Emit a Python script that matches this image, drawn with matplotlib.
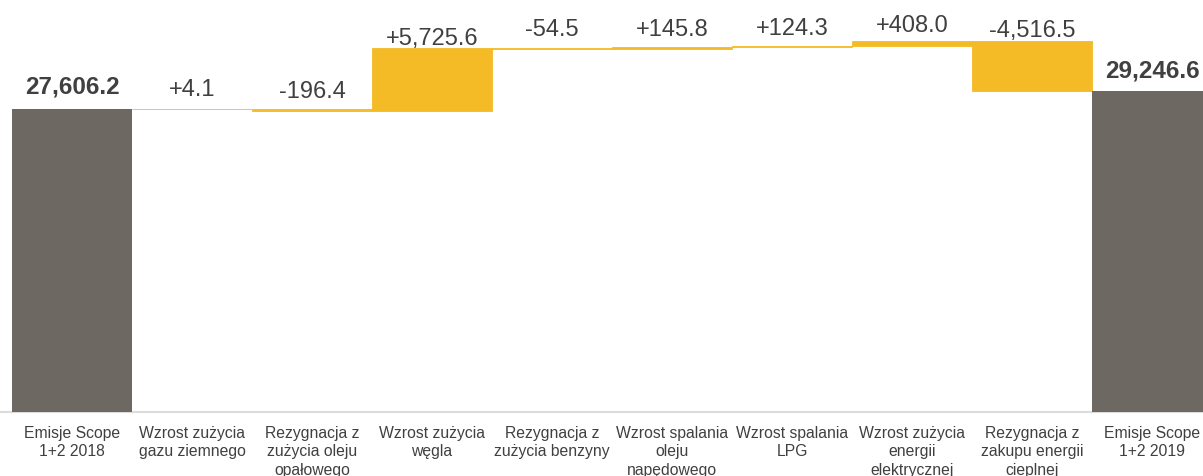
import matplotlib
matplotlib.use("Agg")
import matplotlib.pyplot as plt
import numpy as np

plt.rcParams['font.family'] = ['Liberation Sans', 'DejaVu Sans']

# ---- data ----
categories = [
    "Emisje Scope\n1+2 2018",
    "Wzrost zużycia\ngazu ziemnego",
    "Rezygnacja z\nzużycia oleju\nopałowego",
    "Wzrost zużycia\nwęgla",
    "Rezygnacja z\nzużycia benzyny",
    "Wzrost spalania\noleju\nnapędowego",
    "Wzrost spalania\nLPG",
    "Wzrost zużycia\nenergii\nelektrycznej",
    "Rezygnacja z\nzakupu energii\ncieplnej",
    "Emisje Scope\n1+2 2019",
]
start_total = 27606.2
changes = [4.1, -196.4, 5725.6, -54.5, 145.8, 124.3, 408.0, -4516.5]
end_total = 29246.6

# ---- style ----
YELLOW = "#F4BB26"
GRAY = "#6D6862"
TEXT = "#404040"
label_gap_px = [15.7, 12.9, 10.6, 3.3, 12.6, 11.6, 11.0, 9.2, 4.2, 13.5]

fig = plt.figure(figsize=(12.03, 4.76), dpi=100)
H = 476.0
base_px = 411.5
ax = fig.add_axes([0, (H - base_px) / H, 1, base_px / H])

x = np.arange(len(categories))
bottoms, heights, colors, tops, texts, weights = [], [], [], [], [], []

bottoms.append(0); heights.append(start_total); colors.append(GRAY)
tops.append(start_total); texts.append(f"{start_total:,.1f}"); weights.append("bold")
level = start_total
for c in changes:
    new = level + c
    bottoms.append(min(level, new)); heights.append(abs(c)); colors.append(YELLOW)
    tops.append(max(level, new)); texts.append(f"{c:+,.1f}"); weights.append("normal")
    level = new
bottoms.append(0); heights.append(end_total); colors.append(GRAY)
tops.append(end_total); texts.append(f"{end_total:,.1f}"); weights.append("bold")

for i in range(len(x)):
    lw = 0.6 if colors[i] == YELLOW else 0
    ax.bar(x[i], heights[i], bottom=bottoms[i], width=1.0, color=colors[i],
           edgecolor=colors[i], linewidth=lw, zorder=3)
    fs = 17.5 if weights[i] == "bold" else 17
    ax.annotate(texts[i], xy=(x[i], tops[i]), xytext=(0, label_gap_px[i]),
                textcoords="offset pixels", ha="center", va="baseline",
                fontsize=fs, color=TEXT, fontweight=weights[i], zorder=5)

ax.set_xlim(-72 / 120, (1203 - 72) / 120)
ax.set_ylim(0, base_px / 0.01096)

ax.set_xticks(x)
ax.set_xticklabels(categories, fontsize=11.3, color=TEXT, linespacing=1.28)
ax.tick_params(axis="x", length=0, pad=10.5)
ax.set_yticks([])
for s in ["top", "right", "left"]:
    ax.spines[s].set_visible(False)
ax.spines["bottom"].set_color("#DCDCDC")
ax.spines["bottom"].set_linewidth(1.5)
ax.spines["bottom"].set_zorder(2)
ax.patch.set_alpha(0)

fig.savefig("out.png", dpi=100)
